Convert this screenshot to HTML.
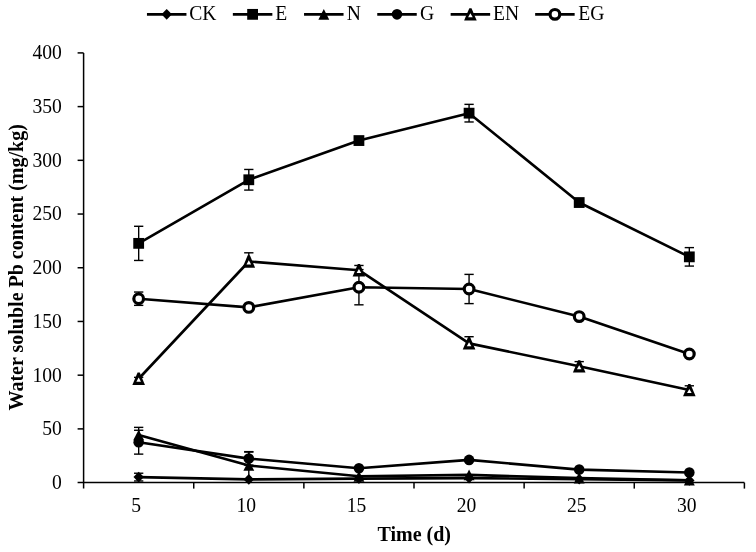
<!DOCTYPE html>
<html><head><meta charset="utf-8"><style>
html,body{margin:0;padding:0;background:#fff;overflow:hidden;width:756px;height:552px;}
svg{display:block;filter:grayscale(1);}
text{font-family:"Liberation Serif",serif;font-size:19.6px;fill:#000;}
</style></head><body>
<svg width="756" height="552" viewBox="0 0 756 552">
<rect width="756" height="552" fill="#fff"/>
<line x1="83.6" y1="52.9" x2="83.6" y2="488.6" stroke="#000" stroke-width="1.5"/>
<line x1="77.6" y1="482.6" x2="744.4" y2="482.6" stroke="#000" stroke-width="1.5"/>
<line x1="77.6" y1="428.89" x2="83.6" y2="428.89" stroke="#000" stroke-width="1.5"/>
<line x1="77.6" y1="375.18" x2="83.6" y2="375.18" stroke="#000" stroke-width="1.5"/>
<line x1="77.6" y1="321.46" x2="83.6" y2="321.46" stroke="#000" stroke-width="1.5"/>
<line x1="77.6" y1="267.75" x2="83.6" y2="267.75" stroke="#000" stroke-width="1.5"/>
<line x1="77.6" y1="214.04" x2="83.6" y2="214.04" stroke="#000" stroke-width="1.5"/>
<line x1="77.6" y1="160.32" x2="83.6" y2="160.32" stroke="#000" stroke-width="1.5"/>
<line x1="77.6" y1="106.61" x2="83.6" y2="106.61" stroke="#000" stroke-width="1.5"/>
<line x1="77.6" y1="52.90" x2="83.6" y2="52.90" stroke="#000" stroke-width="1.5"/>
<line x1="193.73" y1="482.6" x2="193.73" y2="488.6" stroke="#000" stroke-width="1.5"/>
<line x1="303.87" y1="482.6" x2="303.87" y2="488.6" stroke="#000" stroke-width="1.5"/>
<line x1="414.00" y1="482.6" x2="414.00" y2="488.6" stroke="#000" stroke-width="1.5"/>
<line x1="524.13" y1="482.6" x2="524.13" y2="488.6" stroke="#000" stroke-width="1.5"/>
<line x1="634.27" y1="482.6" x2="634.27" y2="488.6" stroke="#000" stroke-width="1.5"/>
<line x1="744.40" y1="482.6" x2="744.40" y2="488.6" stroke="#000" stroke-width="1.5"/>
<text transform="translate(61.8,489.00) scale(1,1.04)" text-anchor="end">0</text>
<text transform="translate(61.8,435.29) scale(1,1.04)" text-anchor="end">50</text>
<text transform="translate(61.8,381.57) scale(1,1.04)" text-anchor="end">100</text>
<text transform="translate(61.8,327.86) scale(1,1.04)" text-anchor="end">150</text>
<text transform="translate(61.8,274.15) scale(1,1.04)" text-anchor="end">200</text>
<text transform="translate(61.8,220.44) scale(1,1.04)" text-anchor="end">250</text>
<text transform="translate(61.8,166.72) scale(1,1.04)" text-anchor="end">300</text>
<text transform="translate(61.8,113.01) scale(1,1.04)" text-anchor="end">350</text>
<text transform="translate(61.8,59.30) scale(1,1.04)" text-anchor="end">400</text>
<text transform="translate(136.17,512) scale(1,1.04)" text-anchor="middle">5</text>
<text transform="translate(246.30,512) scale(1,1.04)" text-anchor="middle">10</text>
<text transform="translate(356.43,512) scale(1,1.04)" text-anchor="middle">15</text>
<text transform="translate(466.57,512) scale(1,1.04)" text-anchor="middle">20</text>
<text transform="translate(576.70,512) scale(1,1.04)" text-anchor="middle">25</text>
<text transform="translate(686.83,512) scale(1,1.04)" text-anchor="middle">30</text>
<text x="414.2" y="541" text-anchor="middle" style="font-weight:bold;font-size:20px">Time (d)</text>
<text transform="translate(23.4,267.3) rotate(-90)" text-anchor="middle" style="font-weight:bold;font-size:20px">Water soluble Pb content (mg/kg)</text>
<line x1="138.67" y1="473.23" x2="138.67" y2="480.97" stroke="#000" stroke-width="1.4"/>
<line x1="134.02" y1="473.23" x2="143.32" y2="473.23" stroke="#000" stroke-width="1.4"/>
<line x1="134.02" y1="480.97" x2="143.32" y2="480.97" stroke="#000" stroke-width="1.4"/>
<line x1="138.67" y1="226.28" x2="138.67" y2="260.45" stroke="#000" stroke-width="1.4"/>
<line x1="134.02" y1="226.28" x2="143.32" y2="226.28" stroke="#000" stroke-width="1.4"/>
<line x1="134.02" y1="260.45" x2="143.32" y2="260.45" stroke="#000" stroke-width="1.4"/>
<line x1="248.80" y1="169.46" x2="248.80" y2="190.08" stroke="#000" stroke-width="1.4"/>
<line x1="244.15" y1="169.46" x2="253.45" y2="169.46" stroke="#000" stroke-width="1.4"/>
<line x1="244.15" y1="190.08" x2="253.45" y2="190.08" stroke="#000" stroke-width="1.4"/>
<line x1="469.07" y1="104.36" x2="469.07" y2="121.97" stroke="#000" stroke-width="1.4"/>
<line x1="464.42" y1="104.36" x2="473.72" y2="104.36" stroke="#000" stroke-width="1.4"/>
<line x1="464.42" y1="121.97" x2="473.72" y2="121.97" stroke="#000" stroke-width="1.4"/>
<line x1="689.33" y1="247.61" x2="689.33" y2="266.08" stroke="#000" stroke-width="1.4"/>
<line x1="684.68" y1="247.61" x2="693.98" y2="247.61" stroke="#000" stroke-width="1.4"/>
<line x1="684.68" y1="266.08" x2="693.98" y2="266.08" stroke="#000" stroke-width="1.4"/>
<line x1="138.67" y1="427.37" x2="138.67" y2="442.63" stroke="#000" stroke-width="1.4"/>
<line x1="134.02" y1="427.37" x2="143.32" y2="427.37" stroke="#000" stroke-width="1.4"/>
<line x1="134.02" y1="442.63" x2="143.32" y2="442.63" stroke="#000" stroke-width="1.4"/>
<line x1="248.80" y1="451.64" x2="248.80" y2="479.36" stroke="#000" stroke-width="1.4"/>
<line x1="244.15" y1="451.64" x2="253.45" y2="451.64" stroke="#000" stroke-width="1.4"/>
<line x1="244.15" y1="479.36" x2="253.45" y2="479.36" stroke="#000" stroke-width="1.4"/>
<line x1="138.67" y1="430.27" x2="138.67" y2="454.12" stroke="#000" stroke-width="1.4"/>
<line x1="134.02" y1="430.27" x2="143.32" y2="430.27" stroke="#000" stroke-width="1.4"/>
<line x1="134.02" y1="454.12" x2="143.32" y2="454.12" stroke="#000" stroke-width="1.4"/>
<line x1="248.80" y1="452.05" x2="248.80" y2="465.15" stroke="#000" stroke-width="1.4"/>
<line x1="244.15" y1="452.05" x2="253.45" y2="452.05" stroke="#000" stroke-width="1.4"/>
<line x1="244.15" y1="465.15" x2="253.45" y2="465.15" stroke="#000" stroke-width="1.4"/>
<line x1="138.67" y1="377.36" x2="138.67" y2="378.75" stroke="#000" stroke-width="1.4"/>
<line x1="134.02" y1="377.36" x2="143.32" y2="377.36" stroke="#000" stroke-width="1.4"/>
<line x1="248.80" y1="252.80" x2="248.80" y2="261.50" stroke="#000" stroke-width="1.4"/>
<line x1="244.15" y1="252.80" x2="253.45" y2="252.80" stroke="#000" stroke-width="1.4"/>
<line x1="358.93" y1="265.47" x2="358.93" y2="270.20" stroke="#000" stroke-width="1.4"/>
<line x1="354.28" y1="265.47" x2="363.58" y2="265.47" stroke="#000" stroke-width="1.4"/>
<line x1="469.07" y1="336.72" x2="469.07" y2="343.38" stroke="#000" stroke-width="1.4"/>
<line x1="464.42" y1="336.72" x2="473.72" y2="336.72" stroke="#000" stroke-width="1.4"/>
<line x1="579.20" y1="361.62" x2="579.20" y2="366.34" stroke="#000" stroke-width="1.4"/>
<line x1="574.55" y1="361.62" x2="583.85" y2="361.62" stroke="#000" stroke-width="1.4"/>
<line x1="689.33" y1="385.80" x2="689.33" y2="390.10" stroke="#000" stroke-width="1.4"/>
<line x1="684.68" y1="385.80" x2="693.98" y2="385.80" stroke="#000" stroke-width="1.4"/>
<line x1="138.67" y1="292.04" x2="138.67" y2="305.36" stroke="#000" stroke-width="1.4"/>
<line x1="134.02" y1="292.04" x2="143.32" y2="292.04" stroke="#000" stroke-width="1.4"/>
<line x1="134.02" y1="305.36" x2="143.32" y2="305.36" stroke="#000" stroke-width="1.4"/>
<line x1="358.93" y1="269.59" x2="358.93" y2="304.82" stroke="#000" stroke-width="1.4"/>
<line x1="354.28" y1="269.59" x2="363.58" y2="269.59" stroke="#000" stroke-width="1.4"/>
<line x1="354.28" y1="304.82" x2="363.58" y2="304.82" stroke="#000" stroke-width="1.4"/>
<line x1="469.07" y1="274.39" x2="469.07" y2="303.61" stroke="#000" stroke-width="1.4"/>
<line x1="464.42" y1="274.39" x2="473.72" y2="274.39" stroke="#000" stroke-width="1.4"/>
<line x1="464.42" y1="303.61" x2="473.72" y2="303.61" stroke="#000" stroke-width="1.4"/>
<polyline points="138.67,477.10 248.80,479.40 358.93,478.60 469.07,478.10 579.20,479.30 689.33,480.40" fill="none" stroke="#000" stroke-width="2.6" stroke-linejoin="round"/>
<path d="M138.67,471.80 L143.87,477.10 L138.67,482.40 L133.47,477.10 Z" fill="#000"/>
<path d="M248.80,474.10 L254.00,479.40 L248.80,484.70 L243.60,479.40 Z" fill="#000"/>
<path d="M358.93,473.30 L364.13,478.60 L358.93,483.90 L353.73,478.60 Z" fill="#000"/>
<path d="M469.07,472.80 L474.27,478.10 L469.07,483.40 L463.87,478.10 Z" fill="#000"/>
<path d="M579.20,474.00 L584.40,479.30 L579.20,484.60 L574.00,479.30 Z" fill="#000"/>
<path d="M689.33,475.10 L694.53,480.40 L689.33,485.70 L684.13,480.40 Z" fill="#000"/>
<polyline points="138.67,243.36 248.80,179.77 358.93,140.56 469.07,113.17 579.20,202.54 689.33,256.85" fill="none" stroke="#000" stroke-width="2.6" stroke-linejoin="round"/>
<rect x="133.27" y="237.96" width="10.8" height="10.8" fill="#000"/>
<rect x="243.40" y="174.37" width="10.8" height="10.8" fill="#000"/>
<rect x="353.53" y="135.16" width="10.8" height="10.8" fill="#000"/>
<rect x="463.67" y="107.77" width="10.8" height="10.8" fill="#000"/>
<rect x="573.80" y="197.14" width="10.8" height="10.8" fill="#000"/>
<rect x="683.93" y="251.45" width="10.8" height="10.8" fill="#000"/>
<polyline points="138.67,435.00 248.80,465.50 358.93,476.30 469.07,474.90 579.20,478.10 689.33,480.20" fill="none" stroke="#000" stroke-width="2.6" stroke-linejoin="round"/>
<path d="M138.67,429.65 L144.12,440.35 L133.22,440.35 Z" fill="#000"/>
<path d="M248.80,460.15 L254.25,470.85 L243.35,470.85 Z" fill="#000"/>
<path d="M358.93,470.95 L364.38,481.65 L353.48,481.65 Z" fill="#000"/>
<path d="M469.07,469.55 L474.52,480.25 L463.62,480.25 Z" fill="#000"/>
<path d="M579.20,472.75 L584.65,483.45 L573.75,483.45 Z" fill="#000"/>
<path d="M689.33,474.85 L694.78,485.55 L683.88,485.55 Z" fill="#000"/>
<polyline points="138.67,442.20 248.80,458.60 358.93,468.30 469.07,459.90 579.20,469.60 689.33,472.50" fill="none" stroke="#000" stroke-width="2.6" stroke-linejoin="round"/>
<circle cx="138.67" cy="442.20" r="5.3" fill="#000"/>
<circle cx="248.80" cy="458.60" r="5.3" fill="#000"/>
<circle cx="358.93" cy="468.30" r="5.3" fill="#000"/>
<circle cx="469.07" cy="459.90" r="5.3" fill="#000"/>
<circle cx="579.20" cy="469.60" r="5.3" fill="#000"/>
<circle cx="689.33" cy="472.50" r="5.3" fill="#000"/>
<polyline points="138.67,378.75 248.80,261.50 358.93,270.20 469.07,343.38 579.20,366.34 689.33,390.10" fill="none" stroke="#000" stroke-width="2.6" stroke-linejoin="round"/>
<path d="M137.57,372.55 L139.77,372.55 L144.97,384.95 L132.37,384.95 Z" fill="#000"/><path d="M138.67,377.55 L140.97,381.65 L136.37,381.65 Z" fill="#fff"/>
<path d="M247.70,255.30 L249.90,255.30 L255.10,267.70 L242.50,267.70 Z" fill="#000"/><path d="M248.80,260.30 L251.10,264.40 L246.50,264.40 Z" fill="#fff"/>
<path d="M357.83,264.00 L360.03,264.00 L365.23,276.40 L352.63,276.40 Z" fill="#000"/><path d="M358.93,269.00 L361.23,273.10 L356.63,273.10 Z" fill="#fff"/>
<path d="M467.97,337.18 L470.17,337.18 L475.37,349.58 L462.77,349.58 Z" fill="#000"/><path d="M469.07,342.18 L471.37,346.28 L466.77,346.28 Z" fill="#fff"/>
<path d="M578.10,360.14 L580.30,360.14 L585.50,372.54 L572.90,372.54 Z" fill="#000"/><path d="M579.20,365.14 L581.50,369.24 L576.90,369.24 Z" fill="#fff"/>
<path d="M688.23,383.90 L690.43,383.90 L695.63,396.30 L683.03,396.30 Z" fill="#000"/><path d="M689.33,388.90 L691.63,393.00 L687.03,393.00 Z" fill="#fff"/>
<polyline points="138.67,298.70 248.80,307.40 358.93,287.20 469.07,289.00 579.20,316.60 689.33,354.00" fill="none" stroke="#000" stroke-width="2.6" stroke-linejoin="round"/>
<circle cx="138.67" cy="298.70" r="4.85" fill="#fff" stroke="#000" stroke-width="3.2"/>
<circle cx="248.80" cy="307.40" r="4.85" fill="#fff" stroke="#000" stroke-width="3.2"/>
<circle cx="358.93" cy="287.20" r="4.85" fill="#fff" stroke="#000" stroke-width="3.2"/>
<circle cx="469.07" cy="289.00" r="4.85" fill="#fff" stroke="#000" stroke-width="3.2"/>
<circle cx="579.20" cy="316.60" r="4.85" fill="#fff" stroke="#000" stroke-width="3.2"/>
<circle cx="689.33" cy="354.00" r="4.85" fill="#fff" stroke="#000" stroke-width="3.2"/>
<line x1="146.95" y1="14.35" x2="186.45" y2="14.35" stroke="#000" stroke-width="2.6"/>
<path d="M166.70,9.05 L171.90,14.35 L166.70,19.65 L161.50,14.35 Z" fill="#000"/>
<text transform="translate(189.3,20.3) scale(1,1.04)">CK</text>
<line x1="232.85" y1="14.35" x2="272.35" y2="14.35" stroke="#000" stroke-width="2.6"/>
<rect x="247.20" y="8.95" width="10.8" height="10.8" fill="#000"/>
<text transform="translate(275.29999999999995,20.3) scale(1,1.04)">E</text>
<line x1="304.05" y1="14.35" x2="343.55" y2="14.35" stroke="#000" stroke-width="2.6"/>
<path d="M323.80,9.00 L329.25,19.70 L318.35,19.70 Z" fill="#000"/>
<text transform="translate(346.7,20.3) scale(1,1.04)">N</text>
<line x1="377.25" y1="14.35" x2="416.75" y2="14.35" stroke="#000" stroke-width="2.6"/>
<circle cx="397.00" cy="14.35" r="5.3" fill="#000"/>
<text transform="translate(419.9,20.3) scale(1,1.04)">G</text>
<line x1="450.65" y1="14.35" x2="490.15" y2="14.35" stroke="#000" stroke-width="2.6"/>
<path d="M469.30,8.15 L471.50,8.15 L476.70,20.55 L464.10,20.55 Z" fill="#000"/><path d="M470.40,13.15 L472.70,17.25 L468.10,17.25 Z" fill="#fff"/>
<text transform="translate(493.09999999999997,20.3) scale(1,1.04)">EN</text>
<line x1="535.15" y1="14.35" x2="574.65" y2="14.35" stroke="#000" stroke-width="2.6"/>
<circle cx="554.90" cy="14.35" r="4.85" fill="#fff" stroke="#000" stroke-width="3.2"/>
<text transform="translate(578.3,20.3) scale(1,1.04)">EG</text>
</svg>
</body></html>
